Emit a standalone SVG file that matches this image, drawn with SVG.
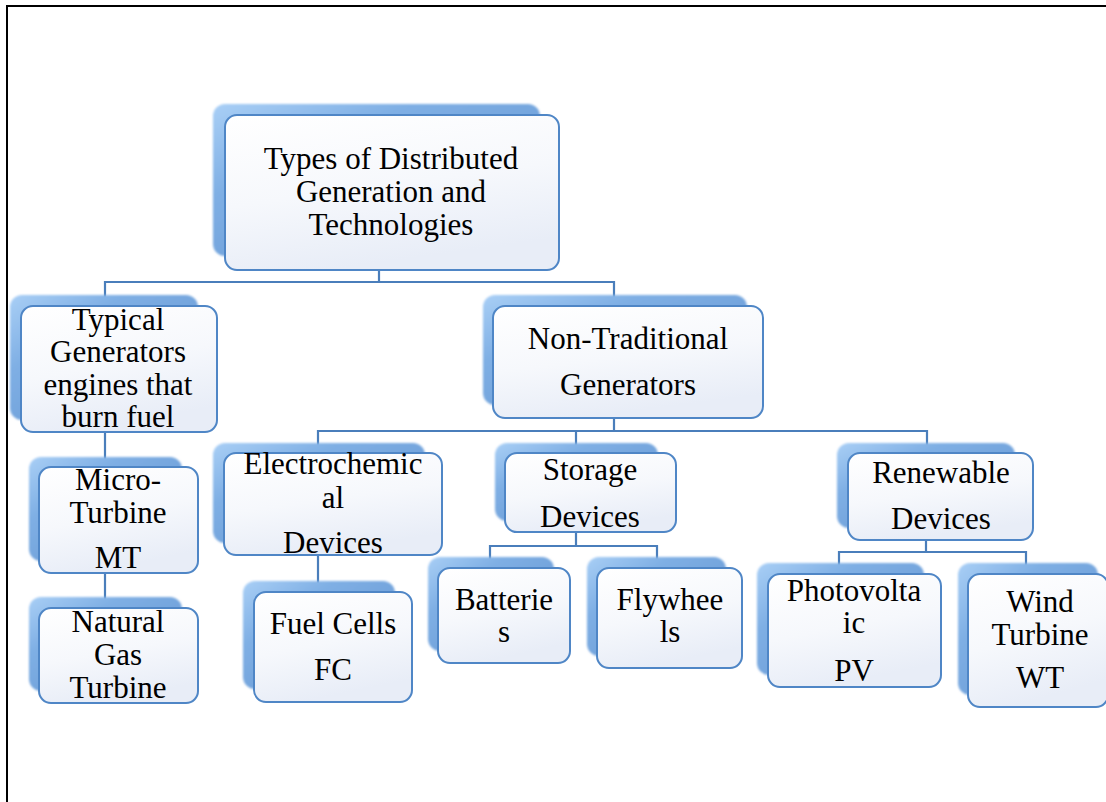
<svg xmlns="http://www.w3.org/2000/svg" width="1106" height="802" viewBox="0 0 1106 802">
  <style>
    .link { fill: none; stroke: #4a7ebb; stroke-width: 2.2; }
    .back { fill: url(#backFill); filter: url(#soft); }
    .front { fill: url(#frontFill); stroke: #4f86c6; stroke-width: 2; }
    .label { font-family: "Liberation Serif", "Times New Roman", serif; font-size: 31px; fill: #000; text-anchor: middle; }
    .frame { stroke: #000; stroke-width: 2; fill: none; }
  </style>
  <defs>
    <linearGradient id="backFill" x1="0" y1="0" x2="1" y2="1">
      <stop offset="0" stop-color="#a9cff6"/>
      <stop offset="0.3" stop-color="#7fafe4"/>
      <stop offset="1" stop-color="#5f91d0"/>
    </linearGradient>
    <linearGradient id="frontFill" x1="0" y1="0" x2="0.3" y2="1">
      <stop offset="0" stop-color="#ffffff"/>
      <stop offset="0.55" stop-color="#f6f8fc"/>
      <stop offset="1" stop-color="#e8edf7"/>
    </linearGradient>
    <filter id="soft" x="-10%" y="-10%" width="120%" height="120%">
      <feGaussianBlur stdDeviation="1.3"/>
    </filter>
  </defs>

  <rect width="1106" height="802" fill="#fff"/>
  <path class="frame" d="M7 802 V6 H1106"/>

  <!-- hierarchy links -->
  <g id="connectors">
    <path class="link" d="M379 270 V282 M105 305 V282 H614 V306"/>
    <path class="link" d="M105 432 V467 M105 573 V608"/>
    <path class="link" d="M614 418 V431 M318 453 V431 H927 V453 M576 431 V453"/>
    <path class="link" d="M318 555 V592"/>
    <path class="link" d="M576 532 V546 M490 568 V546 H657 V568"/>
    <path class="link" d="M926 540 V552 M839 574 V552 H1026 V574"/>
  </g>

  <g id="root">
    <rect class="back" x="213" y="104" width="327" height="152" rx="12"/>
    <rect class="front" x="225" y="115" width="334" height="155" rx="12"/>
    <text class="label" x="391" y="169">Types of Distributed<tspan x="391" y="202">Generation and</tspan><tspan x="391" y="235">Technologies</tspan></text>
  </g>

  <g id="typical-generators">
    <rect class="back" x="10" y="295" width="188" height="125" rx="12"/>
    <rect class="front" x="21" y="306" width="196" height="126" rx="12"/>
    <text class="label" x="118" y="330">Typical<tspan x="118" y="362">Generators</tspan><tspan x="118" y="395">engines that</tspan><tspan x="118" y="427">burn fuel</tspan></text>
  </g>

  <g id="non-traditional">
    <rect class="back" x="483" y="295" width="264" height="110" rx="12"/>
    <rect class="front" x="493" y="306" width="270" height="112" rx="12"/>
    <text class="label" x="628" y="349">Non-Traditional<tspan x="628" y="395">Generators</tspan></text>
  </g>

  <g id="micro-turbine">
    <rect class="back" x="29" y="457" width="153" height="104" rx="12"/>
    <rect class="front" x="39" y="467" width="159" height="106" rx="12"/>
    <text class="label" x="118" y="490">Micro-<tspan x="118" y="523">Turbine</tspan><tspan x="118" y="568">MT</tspan></text>
  </g>

  <g id="natural-gas-turbine">
    <rect class="back" x="29" y="597" width="153" height="94" rx="12"/>
    <rect class="front" x="39" y="608" width="159" height="95" rx="12"/>
    <text class="label" x="118" y="632">Natural<tspan x="118" y="665">Gas</tspan><tspan x="118" y="698">Turbine</tspan></text>
  </g>

  <g id="electrochemical">
    <rect class="back" x="213" y="443" width="212" height="100" rx="12"/>
    <rect class="front" x="224" y="453" width="218" height="102" rx="12"/>
    <text class="label" x="333" y="474">Electrochemic<tspan x="333" y="508">al</tspan><tspan x="333" y="553">Devices</tspan></text>
  </g>

  <g id="fuel-cells">
    <rect class="back" x="243" y="581" width="152" height="108" rx="12"/>
    <rect class="front" x="254" y="592" width="158" height="110" rx="12"/>
    <text class="label" x="333" y="634">Fuel Cells<tspan x="333" y="680">FC</tspan></text>
  </g>

  <g id="storage-devices">
    <rect class="back" x="495" y="443" width="163" height="78" rx="12"/>
    <rect class="front" x="505" y="453" width="171" height="79" rx="12"/>
    <text class="label" x="590" y="480">Storage<tspan x="590" y="527">Devices</tspan></text>
  </g>

  <g id="batteries">
    <rect class="back" x="428" y="557" width="126" height="94" rx="12"/>
    <rect class="front" x="438" y="568" width="132" height="95" rx="12"/>
    <text class="label" x="504" y="610">Batterie<tspan x="504" y="642">s</tspan></text>
  </g>

  <g id="flywheels">
    <rect class="back" x="587" y="557" width="139" height="99" rx="12"/>
    <rect class="front" x="597" y="568" width="145" height="100" rx="12"/>
    <text class="label" x="670" y="610">Flywhee<tspan x="670" y="642">ls</tspan></text>
  </g>

  <g id="renewable-devices">
    <rect class="back" x="837" y="443" width="178" height="85" rx="12"/>
    <rect class="front" x="848" y="453" width="185" height="87" rx="12"/>
    <text class="label" x="941" y="483">Renewable<tspan x="941" y="529">Devices</tspan></text>
  </g>

  <g id="photovoltaic">
    <rect class="back" x="757" y="563" width="167" height="112" rx="12"/>
    <rect class="front" x="768" y="574" width="173" height="113" rx="12"/>
    <text class="label" x="854" y="601">Photovolta<tspan x="854" y="633">ic</tspan><tspan x="854" y="681">PV</tspan></text>
  </g>

  <g id="wind-turbine">
    <rect class="back" x="958" y="563" width="140" height="132" rx="12"/>
    <rect class="front" x="968" y="574" width="140" height="133" rx="12"/>
    <text class="label" x="1040" y="612">Wind<tspan x="1040" y="645">Turbine</tspan><tspan x="1040" y="688">WT</tspan></text>
  </g>
</svg>
